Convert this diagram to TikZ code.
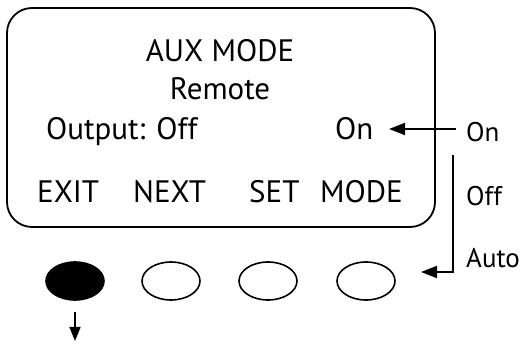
\documentclass[tikz,border=0pt]{standalone}
\usepackage{fontspec}
\setmainfont{PT Sans}
\usetikzlibrary{arrows.meta,shapes.geometric}
\begin{document}
\begin{tikzpicture}[x=1pt,y=-1pt,
  lcd/.style={font=\fontsize{31}{31}\selectfont, inner sep=0pt},
  lab/.style={font=\fontsize{27}{27}\selectfont, inner sep=0pt, anchor=base west},
  btn/.style={draw, line width=1.6pt, ellipse, minimum width=58pt, minimum height=38pt, inner sep=0pt},
  conn/.style={line width=1.8pt, -{Triangle[length=16pt,width=12pt]}}]
\useasboundingbox (0,0) rectangle (527,344);
\draw[line width=1.8pt, rounded corners=25pt] (7,8) rectangle (435,227);
\node[lcd, anchor=base] (title) at (220,62) {AUX MODE};
\node[lcd, anchor=base] (remote) at (220,100) {Remote};
\node[lcd, anchor=base west] (output) at (46,140) {Output: Off};
\node[lcd, anchor=base west] (on) at (335,140) {On};
\node[lcd, anchor=base west] (exit) at (37,203) {EXIT};
\node[lcd, anchor=base west] (next) at (133,203) {NEXT};
\node[lcd, anchor=base west] (set) at (249,203) {SET};
\node[lcd, anchor=base east] (mode) at (403,203) {MODE};
\node[lab] (lon) at (466,142) {On};
\node[lab] (loff) at (466,206) {Off};
\node[lab] (lauto) at (466,268) {Auto};
\node[btn, fill=black] (b1) at (75,281) {};
\node[btn] (b2) at (171,281) {};
\node[btn] (b3) at (268,281) {};
\node[btn] (b4) at (366,281) {};
\coordinate (onstart) at (456,129);
\coordinate (onend) at (389,129);
\draw[conn] (onstart) -- (onend);
\coordinate (vtop) at (453,155);
\coordinate (vbot) at (453,272);
\coordinate (vend) at (421,272);
\draw[conn] (vtop) -- (vbot) -- (vend);
\coordinate (dtop) at (75,312);
\coordinate (dbot) at (75,341);
\draw[line width=1.6pt, -{Triangle[length=14pt,width=11pt]}] (dtop) -- (dbot);
\end{tikzpicture}
\end{document}
